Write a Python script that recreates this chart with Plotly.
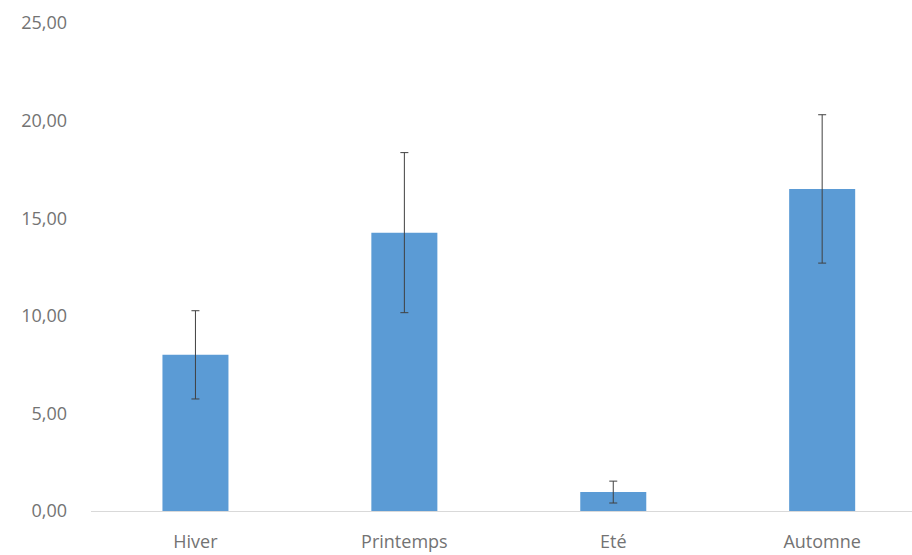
import plotly.graph_objects as go

seasons = ["Hiver", "Printemps", "Eté", "Automne"]
means = [8.0, 14.26, 0.97, 16.5]
errors = [2.26, 4.1, 0.56, 3.8]
y_ticks = [0, 5, 10, 15, 20, 25]

fig = go.Figure(
    go.Bar(
        x=seasons,
        y=means,
        width=0.316,
        marker=dict(color="#5b9bd5", line=dict(width=0)),
        error_y=dict(type="data", array=errors, visible=True,
                     color="#404040", thickness=1, width=4),
    )
)

fig.update_layout(
    width=912, height=555,
    margin=dict(l=91, r=0, t=23, b=44),
    plot_bgcolor="white", paper_bgcolor="white",
    separators=", ",
    font=dict(family="Open Sans, Liberation Sans, sans-serif", size=18, color="#737373"),
    showlegend=False,
)
fig.update_xaxes(
    range=[-0.5, 3.43], showgrid=False, showline=True, linecolor="#d9d9d9",
    linewidth=1, ticks="", ticklabelstandoff=14, automargin=False,
)
fig.update_yaxes(
    range=[0, 25], tickvals=y_ticks, tickformat=".2f", showgrid=False,
    zeroline=False, showline=False, ticks="", ticklabelstandoff=23,
    automargin=False,
)

fig.write_html("out.html")
